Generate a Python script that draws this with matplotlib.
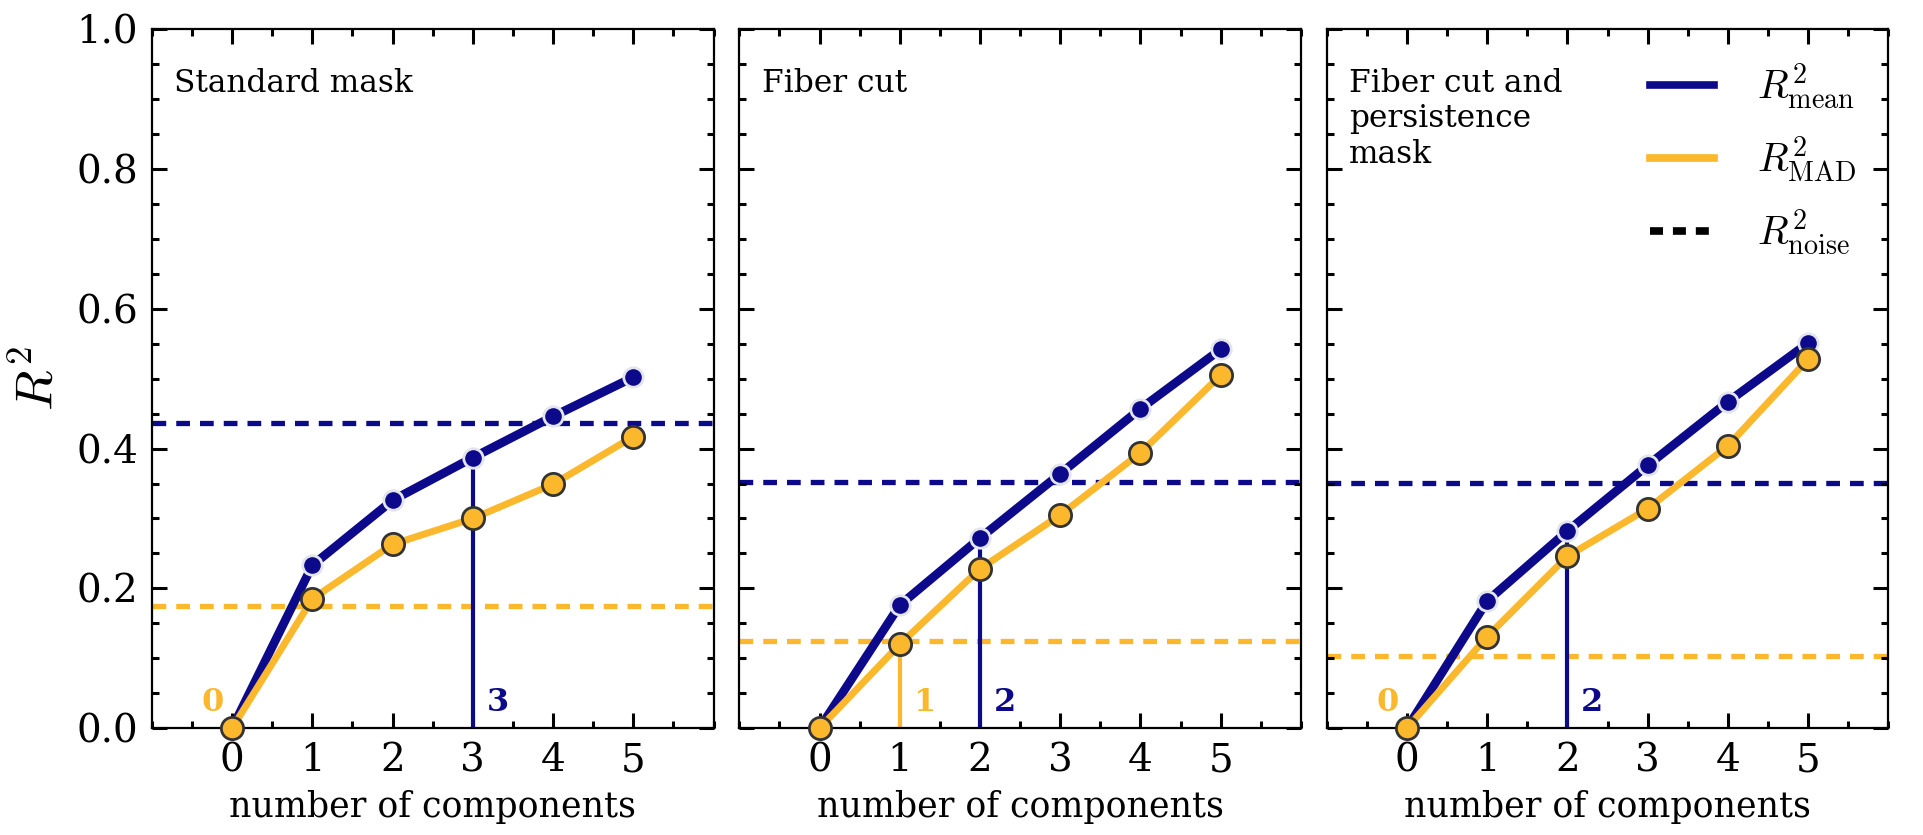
import numpy as np
import matplotlib
matplotlib.use("Agg")
import matplotlib.pyplot as plt
from matplotlib.lines import Line2D

plt.rcParams['font.family'] = ['DejaVu Serif']
plt.rcParams['mathtext.fontset'] = 'cm'

# data
components = [0, 1, 2, 3, 4, 5]
panel_titles = ["Standard mask", "Fiber cut", "Fiber cut and\npersistence\nmask"]

r2_mean = [
    [0.0, 0.233, 0.326, 0.387, 0.446, 0.502],
    [0.0, 0.176, 0.272, 0.364, 0.457, 0.542],
    [0.0, 0.182, 0.282, 0.376, 0.467, 0.551],
]
r2_mad = [
    [0.0, 0.185, 0.263, 0.300, 0.349, 0.417],
    [0.0, 0.120, 0.228, 0.305, 0.394, 0.505],
    [0.0, 0.131, 0.246, 0.314, 0.404, 0.528],
]
noise_mean = [0.436, 0.352, 0.351]
noise_mad = [0.175, 0.124, 0.103]
chosen_mean = [3, 2, 2]
chosen_mad = [0, 1, 0]

NAVY = '#0c0a8a'
GOLD = '#fbb82c'

fig, axes = plt.subplots(1, 3, figsize=(19.23, 8.35), dpi=100, sharey=True)
fig.subplots_adjust(left=0.079, right=0.982, top=0.965, bottom=0.128, wspace=0.046)

dash = (0, (2.6, 1.9))

for i, ax in enumerate(axes):
    ax.axhline(noise_mad[i], color=GOLD, lw=3.8, ls=dash, zorder=1)
    ax.axhline(noise_mean[i], color=NAVY, lw=3.8, ls=dash, zorder=1)

    # vertical markers at the chosen number of components
    cm, cd = chosen_mean[i], chosen_mad[i]
    ax.plot([cm, cm], [0, r2_mean[i][cm]], color=NAVY, lw=3, zorder=2)
    ax.plot([cd, cd], [0, r2_mad[i][cd]], color=GOLD, lw=3, zorder=2)
    ax.text(cm + 0.17, 0.015, str(cm), color=NAVY, fontsize=23, fontweight='bold',
            ha='left', va='bottom', zorder=5)
    if cd == 0:
        ax.text(cd - 0.1, 0.015, str(cd), color=GOLD, fontsize=23, fontweight='bold',
                ha='right', va='bottom', zorder=5)
    else:
        ax.text(cd + 0.17, 0.015, str(cd), color=GOLD, fontsize=23, fontweight='bold',
                ha='left', va='bottom', zorder=5)

    ax.plot(components, r2_mean[i], color=NAVY, lw=6.3, marker='o', ms=14,
            mfc=NAVY, mec='#e4e4ec', mew=2, zorder=3, clip_on=False)
    ax.plot(components, r2_mad[i], color=GOLD, lw=5, marker='o', ms=16,
            mfc=GOLD, mec='#333333', mew=2, zorder=4, clip_on=False)

    ax.text(0.04, 0.945, panel_titles[i], transform=ax.transAxes, fontsize=22.5,
            ha='left', va='top', linespacing=1.2)

    ax.set_xlim(-1, 6)
    ax.set_ylim(0, 1.0)
    ax.set_xticks(components)
    ax.set_xticks(np.arange(-1, 6.01, 0.5), minor=True)
    ax.set_yticks(np.arange(0, 1.01, 0.2))
    ax.set_yticks(np.arange(0, 1.001, 0.05), minor=True)
    ax.tick_params(which='both', direction='in', top=True, right=True, width=2.2)
    ax.tick_params(which='major', length=11, labelsize=28, pad=10)
    ax.tick_params(which='minor', length=5)
    for s in ax.spines.values():
        s.set_linewidth(1.6)
    ax.set_xlabel('number of components', fontsize=25, labelpad=8)

axes[0].set_ylabel('$R^2$', fontsize=38, labelpad=10)

handles = [
    Line2D([], [], color=NAVY, lw=5.5),
    Line2D([], [], color=GOLD, lw=5.5),
    Line2D([], [], color='black', lw=5.5, ls=(0, (1.7, 1.3))),
]
labels = [r'$R^2_{\rm mean}$', r'$R^2_{\rm MAD}$', r'$R^2_{\rm noise}$']
axes[2].legend(handles, labels, loc='upper right', frameon=False, fontsize=29,
               handlelength=1.6, handletextpad=1.05, labelspacing=0.55,
               borderaxespad=0.5, borderpad=0.3)

fig.savefig('out.png', dpi=100)
